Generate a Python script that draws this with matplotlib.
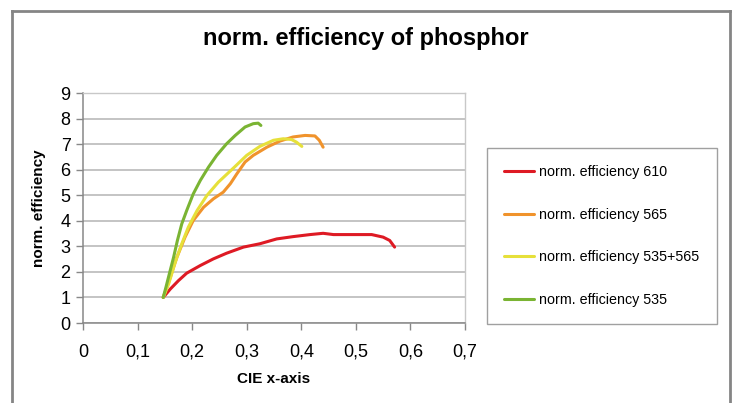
import matplotlib
matplotlib.use("Agg")
import matplotlib.pyplot as plt
from matplotlib.lines import Line2D

plt.rcParams['font.family'] = ['Liberation Sans', 'DejaVu Sans']

# CIE x coordinate vs normalised efficiency for each phosphor mix
x_610 = [0.147, 0.160, 0.175, 0.190, 0.215, 0.239, 0.263, 0.294, 0.324, 0.355,
         0.385, 0.416, 0.440, 0.459, 0.489, 0.529, 0.550, 0.562, 0.571]
y_610 = [1.00, 1.33, 1.66, 1.95, 2.25, 2.51, 2.73, 2.97, 3.10, 3.29,
         3.38, 3.46, 3.51, 3.46, 3.46, 3.46, 3.36, 3.23, 2.97]

x_565 = [0.147, 0.160, 0.172, 0.187, 0.202, 0.221, 0.239, 0.257, 0.270, 0.282,
         0.297, 0.312, 0.337, 0.361, 0.385, 0.407, 0.425, 0.433, 0.440]
y_565 = [1.00, 1.79, 2.57, 3.36, 4.01, 4.53, 4.86, 5.12, 5.45, 5.84,
         6.30, 6.56, 6.88, 7.12, 7.28, 7.34, 7.32, 7.15, 6.88]

x_535_565 = [0.147, 0.157, 0.169, 0.181, 0.193, 0.209, 0.227, 0.248, 0.276,
             0.300, 0.324, 0.349, 0.367, 0.382, 0.391, 0.401]
y_535_565 = [1.00, 1.53, 2.38, 3.10, 3.75, 4.40, 4.99, 5.51, 6.07,
             6.56, 6.91, 7.15, 7.21, 7.18, 7.08, 6.91]

x_535 = [0.147, 0.152, 0.159, 0.166, 0.173, 0.181, 0.190, 0.202, 0.215,
         0.230, 0.245, 0.263, 0.279, 0.297, 0.312, 0.321, 0.326]
y_535 = [1.00, 1.40, 1.99, 2.57, 3.23, 3.88, 4.40, 5.05, 5.58,
         6.10, 6.56, 7.01, 7.34, 7.67, 7.80, 7.82, 7.73]

series = [
    (x_610, y_610, 'norm. efficiency 610', '#de1a24'),
    (x_565, y_565, 'norm. efficiency 565', '#f0932c'),
    (x_535_565, y_535_565, 'norm. efficiency 535+565', '#e6e03a'),
    (x_535, y_535, 'norm. efficiency 535', '#7ab433'),
]

x_ticks = [0, 0.1, 0.2, 0.3, 0.4, 0.5, 0.6, 0.7]
x_tick_labels = ['0', '0,1', '0,2', '0,3', '0,4', '0,5', '0,6', '0,7']
y_ticks = list(range(0, 10))

W, H = 737, 403
fig = plt.figure(figsize=(W / 100, H / 100), dpi=100)
ax = fig.add_axes([83 / W, 1 - 323 / H, (465 - 83) / W, (323 - 93) / H])

for xs, ys, name, col in series:
    ax.plot(xs, ys, color=col, lw=2.2, label=name, solid_capstyle='round')

ax.set_xlim(0, 0.7)
ax.set_ylim(0, 9)
ax.set_xticks(x_ticks)
ax.set_xticklabels(x_tick_labels)
ax.set_yticks(y_ticks)
ax.yaxis.grid(True, color='#b4b4b4', lw=1.1)
ax.set_axisbelow(True)
ax.tick_params(axis='both', direction='out', length=5, width=1, color='#888888',
               labelsize=13, pad=4)
ax.tick_params(axis='x', pad=10)
for side in ['left', 'bottom']:
    ax.spines[side].set_color('#888888')
    ax.spines[side].set_linewidth(1.1)
for side in ['top', 'right']:
    ax.spines[side].set_color('#c8c8c8')
    ax.spines[side].set_linewidth(1)

ax.set_xlabel('CIE x-axis', fontsize=11, fontweight='bold', labelpad=8)
ax.set_ylabel('norm. efficiency', fontsize=11, fontweight='bold', labelpad=10)
fig.suptitle('norm. efficiency of phosphor', fontsize=17, fontweight='bold',
             x=0.497, y=1 - 27 / H)

leg = fig.legend(loc='upper left', bbox_to_anchor=(487 / W, 1 - 148 / H),
                 fontsize=10.3, frameon=True, fancybox=False, edgecolor='#888888',
                 labelspacing=2.0, handlelength=2.1, handletextpad=0.35,
                 borderpad=1.2, borderaxespad=0)
leg.get_frame().set_linewidth(1)

# grey outer frame of the chart area
frame_col = '#858585'
fig.add_artist(Line2D([12 / W, 12 / W], [0, 1 - 10.5 / H], color=frame_col, lw=2))
fig.add_artist(Line2D([730 / W, 730 / W], [0, 1 - 10.5 / H], color=frame_col, lw=2))
fig.add_artist(Line2D([12 / W, 730 / W], [1 - 10.5 / H, 1 - 10.5 / H], color=frame_col, lw=2))

fig.savefig('out.png', dpi=100)
